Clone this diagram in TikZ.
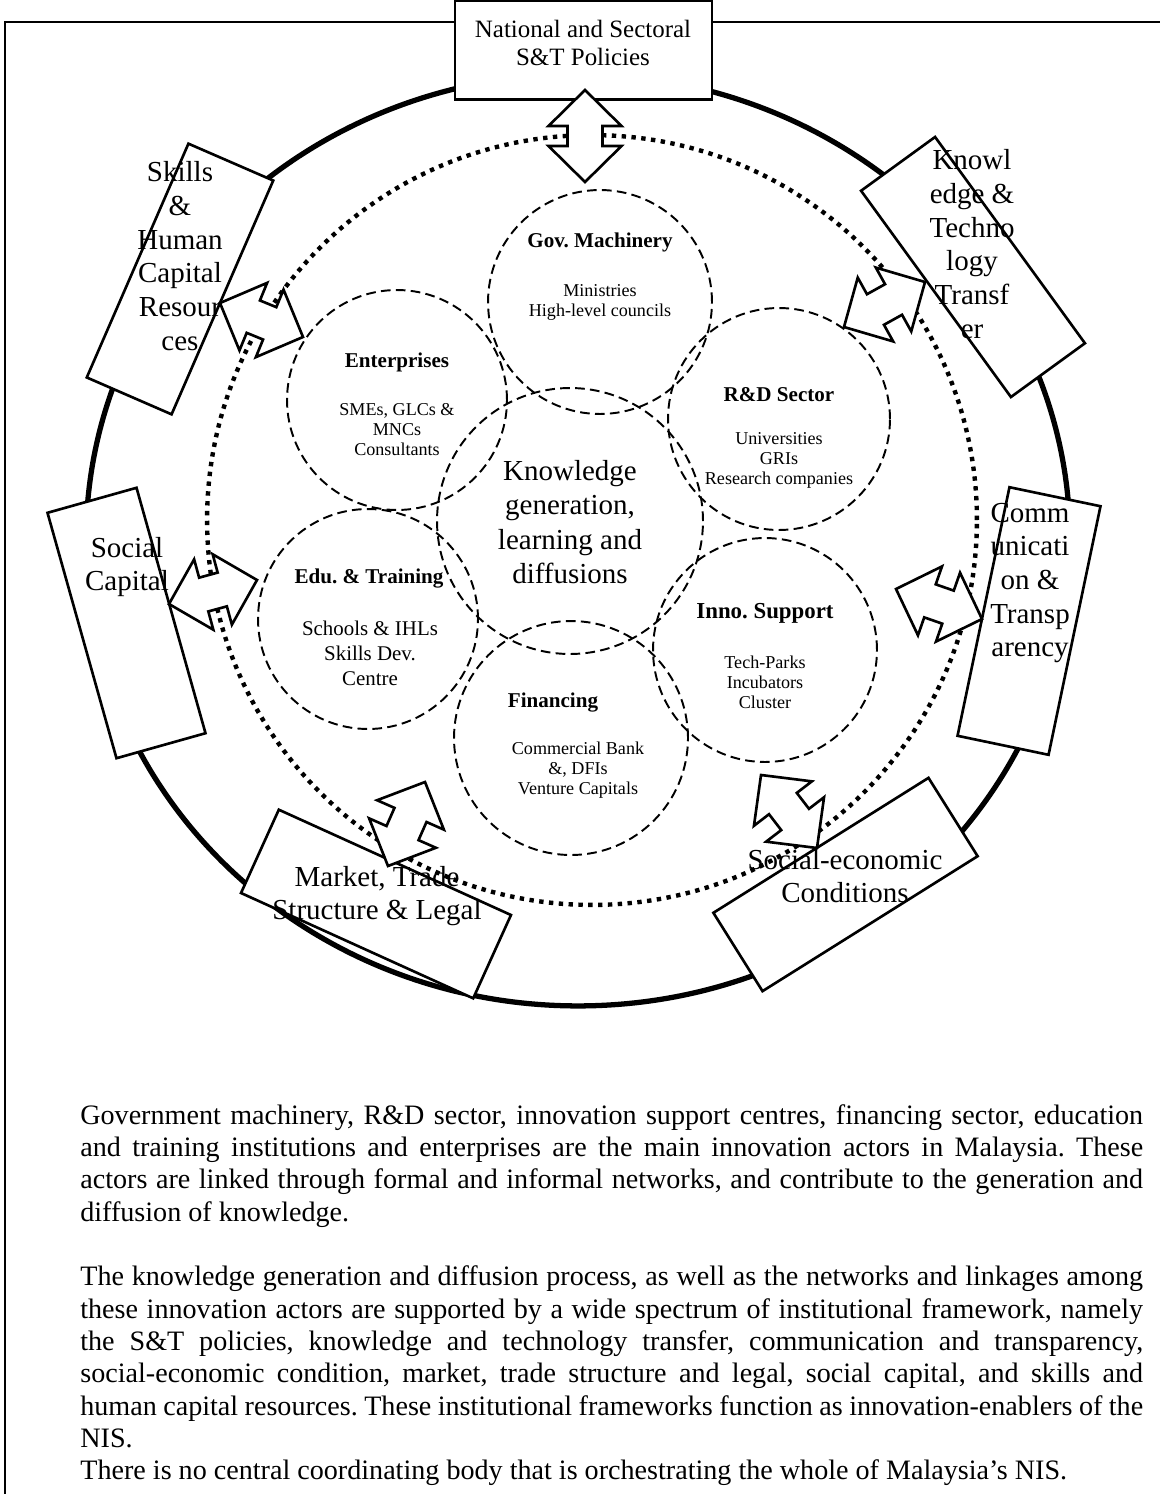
\documentclass[tikz,border=0pt]{standalone}
\usepackage{fontspec}
\setmainfont{Liberation Serif}
\usetikzlibrary{calc}
\frenchspacing

\tikzset{
  every picture/.style={x=0.02cm, y=-0.02cm},
  rim/.style={line width=3pt},
  loopline/.style={line width=2.5pt, dash pattern=on 2.5pt off 3.1pt},
  actor/.style={circle, draw, line width=1.1pt, dash pattern=on 5.5pt off 3pt, inner sep=0pt, minimum size=#1},
  actorhead/.style={font=\fontsize{12}{14}\selectfont\bfseries, inner sep=0pt},
  actortext/.style={font=\fontsize{10.3}{11.4}\selectfont, align=center, inner sep=0pt},
  frame/.style={draw, fill=white, line width=1.5pt, rectangle, inner sep=0pt},
  framelabel/.style={font=\fontsize{16.5}{19.2}\selectfont, align=center, inner sep=0pt},
  link/.style={draw, fill=white, line width=1.5pt, line join=miter},
}

% block double arrow between two named points
\newcommand{\arrhead}{0.72cm}
\newcommand{\arrwing}{0.73cm}
\newcommand{\arrshaft}{0.35cm}
\newcommand{\linkarrow}[2]{%
  \coordinate (ha) at ($(#1)!\arrhead!(#2)$);
  \coordinate (hb) at ($(#2)!\arrhead!(#1)$);
  \draw[link] (#1) -- ($(ha)!\arrwing!90:(#2)$) -- ($(ha)!\arrshaft!90:(#2)$)
    -- ($(hb)!\arrshaft!90:(#2)$) -- ($(hb)!\arrwing!90:(#2)$) -- (#2)
    -- ($(hb)!\arrwing!-90:(#2)$) -- ($(hb)!\arrshaft!-90:(#2)$)
    -- ($(ha)!\arrshaft!-90:(#2)$) -- ($(ha)!\arrwing!-90:(#2)$) -- cycle;
}

\begin{document}
\begin{tikzpicture}
  \useasboundingbox (0,0) rectangle (1160,1494);

  % page frame
  \draw[line width=1.2pt] (5,1494) -- (5,22) -- (1160,22);

  % outer ring and inner network loop
  \draw[rim] (578,540) ellipse[x radius=9.84cm, y radius=9.32cm];

  % innovation actors
  \node[actor=4.48cm] (gov) at (600,302) {};
  \node[actor=4.4cm] (ent) at (397,400) {};
  \node[actor=4.44cm] (rnd) at (779,419) {};
  \node[actor=4.4cm] (edu) at (368,619) {};
  \node[actor=4.68cm] (fin) at (571,738) {};
  \node[actor=4.48cm] (inno) at (765,650) {};
  \node[actor=5.32cm] (core) at (570,521) {};

  \draw[loopline] (592,520) circle[radius=7.7cm];

  % institutional frameworks
  \node[frame, minimum width=5.14cm, minimum height=1.98cm] (pol) at (583.5,50) {};
  \node[frame, minimum width=1.85cm, minimum height=5.1cm, rotate=-23.5] (skills) at (180,279) {};
  \node[frame, minimum width=1.83cm, minimum height=5.1cm, rotate=36] (ktt) at (973,267) {};
  \node[frame, minimum width=1.85cm, minimum height=5.1cm, rotate=15.7] (soc) at (126.5,623) {};
  \node[frame, minimum width=1.86cm, minimum height=5.08cm, rotate=-11.8] (comm) at (1029,621) {};
  \node[frame, minimum width=5.1cm, minimum height=1.83cm, rotate=-24.4] (mkt) at (376,904) {};
  \node[frame, minimum width=5.08cm, minimum height=1.85cm, rotate=32.1] (sec) at (845.5,884.5) {};

  % arrow ends
  \coordinate (pol-a) at (585,90);   \coordinate (pol-b) at (585,182);
  \coordinate (skills-a) at (220,303); \coordinate (skills-b) at (303,337);
  \coordinate (ktt-a) at (925,282);  \coordinate (ktt-b) at (844,327);
  \coordinate (soc-a) at (169,604);  \coordinate (soc-b) at (257,580);
  \coordinate (comm-a) at (982,619); \coordinate (comm-b) at (896,589);
  \coordinate (mkt-a) at (388,866);  \coordinate (mkt-b) at (425,782);
  \coordinate (sec-a) at (817,848);  \coordinate (sec-b) at (761,775);

  \linkarrow{pol-a}{pol-b}
  \linkarrow{skills-a}{skills-b}
  \linkarrow{ktt-a}{ktt-b}
  \linkarrow{soc-a}{soc-b}
  \linkarrow{comm-a}{comm-b}
  \linkarrow{mkt-a}{mkt-b}
  \linkarrow{sec-a}{sec-b}

  % frame labels
  \node[framelabel, font=\fontsize{14.2}{16.4}\selectfont] (pol-t) at (583,43) {National and Sectoral\\S\&T Policies};
  \node[framelabel] (skills-t) at (180,256) {Skills\\\&\\Human\\Capital\\Resour\\ces};
  \node[framelabel] (ktt-t) at (972,244) {Knowl\\edge \&\\Techno\\logy\\Transf\\er};
  \node[framelabel] (soc-t) at (127,567) {Social\\Capital};
  \node[framelabel] (comm-t) at (1030,583) {Comm\\unicati\\on \&\\Transp\\arency};
  \node[framelabel] (mkt-t) at (377,896) {Market, Trade\\Structure \& Legal};
  \node[framelabel] (sec-t) at (845,876) {Social-economic\\Conditions};

  % actor labels
  \node[actorhead] (gov-h) at (600,242) {Gov. Machinery};
  \node[actortext] (gov-t) at (600,302) {Ministries\\High-level councils};
  \node[actorhead] (ent-h) at (397,362) {Enterprises};
  \node[actortext] (ent-t) at (397,430) {SMEs, GLCs \&\\MNCs\\Consultants};
  \node[actorhead] (rnd-h) at (779,395) {R\&D Sector};
  \node[actortext] (rnd-t) at (779,460) {Universities\\GRIs\\Research companies};
  \node[actorhead] (edu-h) at (369,579) {Edu. \& Training};
  \node[actortext, font=\fontsize{11.9}{14.2}\selectfont] (edu-t) at (370,653) {Schools \& IHLs\\Skills Dev.\\Centre};
  \node[actorhead] (fin-h) at (553,703) {Financing};
  \node[actortext] (fin-t) at (578,770) {Commercial Bank\\\&, DFIs\\Venture Capitals};
  \node[actorhead, font=\fontsize{13}{15}\selectfont\bfseries] (inno-h) at (765,613) {Inno. Support};
  \node[actortext] (inno-t) at (765,682) {Tech-Parks\\Incubators\\Cluster};
  \node[framelabel, font=\fontsize{16.5}{19.7}\selectfont] (core-t) at (570,522) {Knowledge\\generation,\\learning and\\diffusions};

  % summary text
  \node[anchor=north west, text width=21.26cm, align=justify, inner sep=0pt,
        font=\fontsize{16}{18.4}\selectfont] (summary) at (80,1104)
    {Government machinery, R\&D sector, innovation support centres, financing sector, education\linebreak
     and training institutions and enterprises are the main innovation actors in Malaysia. These\linebreak
     actors are linked through formal and informal networks, and contribute to the generation and\linebreak
     diffusion of knowledge.\par\vspace{18.4pt}
     The knowledge generation and diffusion process, as well as the networks and linkages among\linebreak
     these innovation actors are supported by a wide spectrum of institutional framework, namely\linebreak
     the S\&T policies, knowledge and technology transfer, communication and transparency,\linebreak
     social-economic condition, market, trade structure and legal, social capital, and skills and\linebreak
     human capital resources. These institutional frameworks function as innovation-enablers of the\linebreak
     NIS.\par
     There is no central coordinating body that is orchestrating the whole of Malaysia’s NIS.};
\end{tikzpicture}
\end{document}
